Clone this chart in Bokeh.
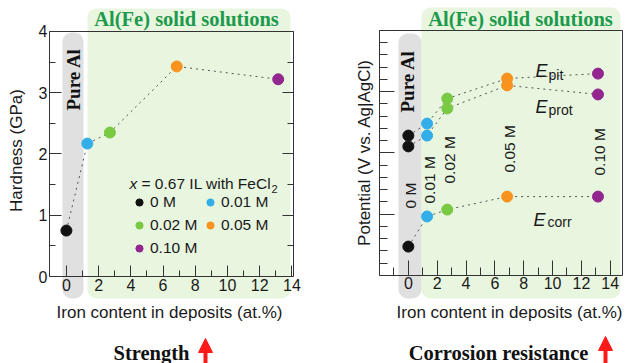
from math import pi
from bokeh.plotting import figure
from bokeh.models import (ColumnDataSource, Range1d, LinearAxis, FixedTicker, Label,
                          BoxAnnotation, Arrow, NormalHead, Legend, LegendItem)
from bokeh.layouts import row
from bokeh.embed import file_html
from bokeh.resources import INLINE

# ---------------- data ----------------
concentrations = ["0 M", "0.01 M", "0.02 M", "0.05 M", "0.10 M"]
conc_colors = ["#111111", "#33aee8", "#7ac943", "#f7931e", "#93278f"]
iron_content = [0.0, 1.3, 2.7, 6.85, 13.15]          # at.%
hardness = [0.75, 2.17, 2.35, 3.43, 3.22]            # GPa
E_pit = [-0.929, -0.880, -0.778, -0.696, -0.676]     # V
E_prot = [-0.973, -0.929, -0.818, -0.724, -0.761]    # V
E_corr = [-1.382, -1.259, -1.231, -1.178, -1.178]    # V

x_ticks = [0, 2, 4, 6, 8, 10, 12, 14]
x_minor_left = [1, 3, 5, 7, 9, 11, 13]
x_minor_right = [-1, 1, 3, 5, 7, 9, 11, 13]
hard_ticks = [0, 1, 2, 3, 4]
hard_minor = [0.5, 1.5, 2.5, 3.5]
pot_ticks = [-1.5, -1.25, -1.0, -0.75, -0.5]
pot_minor = [round(-1.5 + 0.05 * k, 2) for k in range(1, 20) if k % 5]

SANS = "Liberation Sans"
SERIF = "Liberation Serif"
AXC = "#333333"
TXT = "#1a1a1a"
GREEN_TXT = "#1d9a4c"
GREEN_BAND = "#e8f5df"
GREY_BAND = "#e0e0e0"
H = 363  # canvas height


def style_axis(ax, major_in, minor_in, labels=True):
    ax.major_tick_in = major_in
    ax.major_tick_out = 0
    ax.minor_tick_in = minor_in
    ax.minor_tick_out = 0
    ax.axis_line_color = AXC
    ax.major_tick_line_color = AXC
    ax.minor_tick_line_color = AXC
    ax.major_label_text_font = SANS
    ax.major_label_text_font_size = "16px"
    ax.major_label_standoff = 2
    ax.major_label_text_color = TXT if labels else None
    ax.axis_label = None


def add_axis(p, place, loc, bounds, ticks, minor, major_in, minor_in, labels):
    ax = LinearAxis(ticker=FixedTicker(ticks=ticks, minor_ticks=minor))
    style_axis(ax, major_in, minor_in, labels)
    ax.fixed_location = loc
    ax.bounds = bounds
    p.add_layout(ax, place)
    return ax


def make_fig(width, xr, yr):
    p = figure(width=width, height=H, x_range=Range1d(*xr), y_range=Range1d(*yr),
               output_backend="svg", toolbar_location=None, x_axis_location=None,
               y_axis_location=None, min_border=0)
    p.xgrid.grid_line_color = None
    p.ygrid.grid_line_color = None
    p.outline_line_color = None
    p.background_fill_color = "white"
    p.border_fill_color = "white"
    return p


def text(p, x, y, t, size, font=SANS, style="normal", color=TXT, align="left",
         baseline="middle", angle=0.0, x_units="screen", x_offset=0):
    p.add_layout(Label(x=x, y=y, x_units=x_units, y_units="screen", x_offset=x_offset,
                       text=t, text_font=font, text_font_style=style, text_font_size=size,
                       text_color=color, text_align=align, text_baseline=baseline,
                       angle=angle))


def band(p, left, right, top, bottom, color):
    p.add_layout(BoxAnnotation(left=left, right=right, top=top, bottom=bottom,
                               left_units="screen", right_units="screen",
                               top_units="screen", bottom_units="screen",
                               fill_color=color, fill_alpha=1, line_alpha=0, border_radius=9,
                               level="underlay"))


def red_arrow(p, x, y0, y1):
    p.add_layout(Arrow(end=NormalHead(size=14, fill_color="#ff1a1a", line_color="#ff1a1a"),
                       x_start=x, y_start=y0, x_end=x, y_end=y1,
                       start_units="screen", end_units="screen",
                       line_color="#ff1a1a", line_width=4))


# ---------------- left panel: hardness ----------------
X1 = (-1.05, 14.1)
Y1 = (0.0, 4.0)
p1 = make_fig(318, (-4.092, 15.652), (-1.4204, 4.5061))

band(p1, 87, 290, 355, 65, GREEN_BAND)
band(p1, 62, 83, 331, 65, GREY_BAND)

add_axis(p1, "below", Y1[0], X1, x_ticks, x_minor_left, 11, 6, True)
add_axis(p1, "above", Y1[1], X1, [], [], 0, 0, False)
add_axis(p1, "left", X1[0], Y1, hard_ticks, hard_minor, 12, 6, True)
add_axis(p1, "right", X1[1], Y1, hard_ticks, hard_minor, 11, 6, False)

text(p1, 186, 345, "Al(Fe) solid solutions", "20.5px", SERIF, "bold", GREEN_TXT, "center")
text(p1, 73, 253, "Pure Al", "19px", SERIF, "bold", "#111111", "left", angle=pi / 2)
text(p1, 16, 213, "Hardness (GPa)", "17px", align="center", angle=pi / 2)
text(p1, 169, 51, "Iron content in deposits (at.%)", "17px", align="center")

src1 = ColumnDataSource(dict(x=iron_content, y=hardness, c=conc_colors))
p1.line("x", "y", source=src1, line_color="#555555", line_width=1, line_dash="dotted")
r_pts1 = p1.scatter("x", "y", source=src1, size=11, fill_color="c", line_color="c")

legend = Legend(items=[LegendItem(label=concentrations[i], renderers=[r_pts1], index=i)
                       for i in range(len(concentrations))],
                orientation="horizontal", ncols=2, location=(130, 105),
                glyph_width=18, glyph_height=18, label_standoff=2, spacing=3, padding=0, margin=0,
                label_text_font=SANS, label_text_font_size="15.5px", label_text_color=TXT,
                background_fill_alpha=0, border_line_alpha=0, label_height=20, label_width=48)
p1.add_layout(legend, "center")

text(p1, 129, 180, "x", "15.5px", style="italic")
text(p1, 141, 180, "= 0.67 IL with FeCl", "15.5px")
text(p1, 271, 175, "2", "11px")

text(p1, 151, 11, "Strength", "20.5px", SERIF, "bold", "#111111", "center")
red_arrow(p1, 205, 0, 25)

# ---------------- right panel: potentials ----------------
X2 = (-2.0, 14.85)
Y2 = (-1.5, -0.5)
p2 = make_fig(309, (-6.230, 15.197), (-1.8592, -0.37755))

band(p2, 103, 302, 356, 65, GREEN_BAND)
band(p2, 80, 103, 330, 65, GREY_BAND)

add_axis(p2, "below", Y2[0], X2, x_ticks, x_minor_right, 15, 8, True)
add_axis(p2, "above", Y2[1], X2, [], [], 0, 0, False)
add_axis(p2, "left", X2[0], Y2, pot_ticks, pot_minor, 15, 8, False)
add_axis(p2, "right", X2[1], Y2, [], [], 0, 0, False)

text(p2, 202, 345, "Al(Fe) solid solutions", "20.5px", SERIF, "bold", GREEN_TXT, "center")
text(p2, 89, 251, "Pure Al", "19px", SERIF, "bold", "#111111", "left", angle=pi / 2)
text(p2, 46, 211, "Potential (V vs. Ag|AgCl)", "17px", align="center", angle=pi / 2)
text(p2, 191, 51, "Iron content in deposits (at.%)", "17px", align="center")

for series in (E_pit, E_prot, E_corr):
    s = ColumnDataSource(dict(x=iron_content, y=series, c=conc_colors))
    p2.line("x", "y", source=s, line_color="#555555", line_width=1, line_dash="dotted")
for series in (E_pit, E_prot, E_corr):
    s = ColumnDataSource(dict(x=iron_content, y=series, c=conc_colors))
    p2.scatter("x", "y", source=s, size=11, fill_color="c", line_color="c")

conc_label_y = [155, 160, 180, 191, 188]   # screen px (label start, bottom of rotated text)
for xi, lab, yl in zip(iron_content, concentrations, conc_label_y):
    text(p2, xi, yl, lab, "15.5px", angle=pi / 2, x_units="data", x_offset=2)

for ex, ey, sub, sx, sy in ((217, 293, "pit", 230, 289), (217, 257, "prot", 230, 254),
                            (215, 144, "corr", 229, 142)):
    text(p2, ex, ey, "E", "18px", style="italic", baseline="alphabetic")
    text(p2, sx, sy, sub, "14px", baseline="alphabetic")

text(p2, 180, 11, "Corrosion resistance", "20.5px", SERIF, "bold", "#111111", "center")
red_arrow(p2, 287, 0, 27)

layout = row(p1, p2)
open("out.html", "w").write(file_html(layout, INLINE))
